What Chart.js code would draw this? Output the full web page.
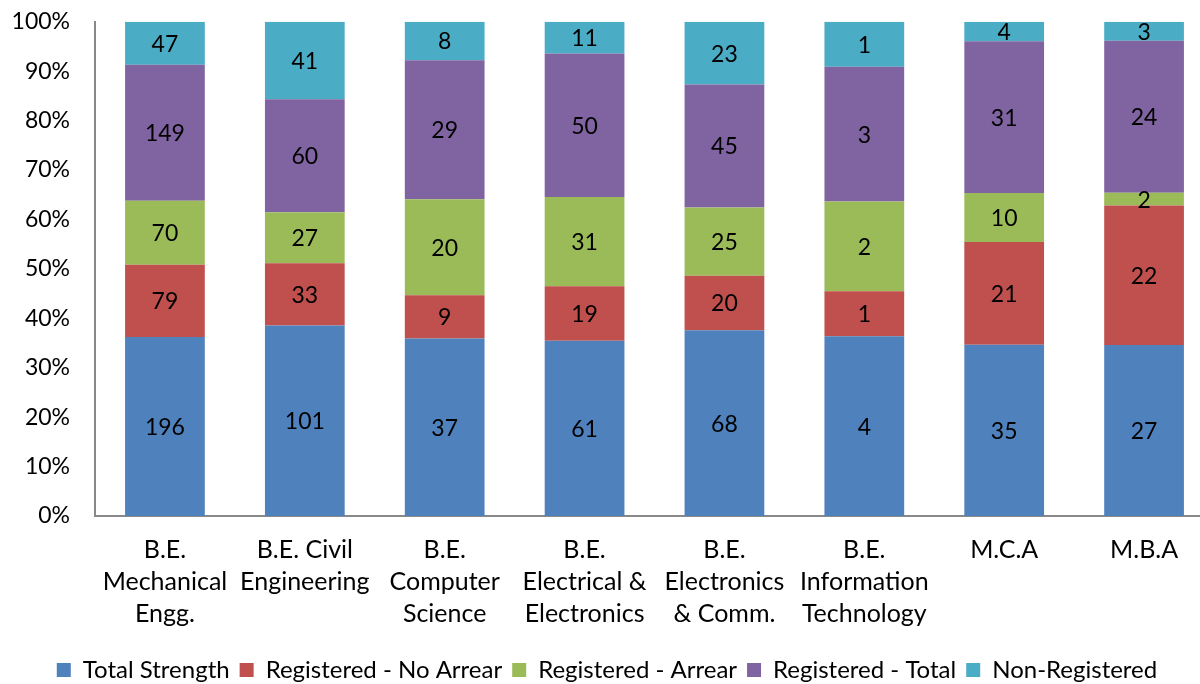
<!DOCTYPE html>
<html>
<head>
<meta charset="utf-8">
<script src="https://cdn.jsdelivr.net/npm/chart.js@4/dist/chart.umd.min.js"></script>
<style>
  html, body { margin: 0; padding: 0; background: #fff; overflow: hidden; }
  #wrap { width: 1200px; height: 684px; overflow: hidden; }
  #box { width: 1214px; height: 709px; margin-top: -17px; }
</style>
</head>
<body>
<div id="wrap"><div id="box"><canvas id="myChart"></canvas></div></div>
<script>
const categories = [
    ['B.E.', 'Mechanical', 'Engg.'],
    ['B.E. Civil', 'Engineering'],
    ['B.E.', 'Computer', 'Science'],
    ['B.E.', 'Electrical &', 'Electronics'],
    ['B.E.', 'Electronics', '& Comm.'],
    ['B.E.', 'Information', 'Technology'],
    'M.C.A',
    'M.B.A'
];
const totalStrength = [196, 101, 37, 61, 68, 4, 35, 27];
const regNoArrear = [79, 33, 9, 19, 20, 1, 21, 22];
const regArrear = [70, 27, 20, 31, 25, 2, 10, 2];
const regTotal = [149, 60, 29, 50, 45, 3, 31, 24];
const nonRegistered = [47, 41, 8, 11, 23, 1, 4, 3];

const seriesNames = ['Total Strength', 'Registered - No Arrear', 'Registered - Arrear', 'Registered - Total', 'Non-Registered'];
const seriesColors = ['#4F81BD', '#C0504D', '#9BBB59', '#8064A2', '#4BACC6'];
const series = [totalStrength, regNoArrear, regArrear, regTotal, nonRegistered];

// each column is shown as a share of its own sum
const sums = categories.map((c, i) => series.reduce((s, arr) => s + arr[i], 0));

const fontFamily = 'Lato, "Open Sans", sans-serif';

const valueLabels = {
    id: 'valueLabels',
    afterDatasetsDraw(chart) {
        const ctx = chart.ctx;
        ctx.save();
        ctx.font = '23px ' + fontFamily;
        ctx.fillStyle = '#000';
        ctx.textAlign = 'center';
        ctx.textBaseline = 'middle';
        chart.data.datasets.forEach((ds, d) => {
            const meta = chart.getDatasetMeta(d);
            meta.data.forEach((bar, i) => {
                const mid = (bar.y + bar.base) / 2;
                ctx.fillText(String(ds.raw[i]), bar.x, mid + 1);
            });
        });
        ctx.restore();
    }
};

const ctx = document.getElementById('myChart').getContext('2d');

const myChart = new Chart(ctx, {
    type: 'bar',
    data: {
        labels: categories,
        datasets: series.map((arr, k) => ({
            label: seriesNames[k],
            raw: arr,
            data: arr.map((v, i) => v / sums[i] * 100),
            backgroundColor: seriesColors[k],
            borderWidth: 0,
            barPercentage: 0.57,
            categoryPercentage: 1
        }))
    },
    options: {
        responsive: true,
        maintainAspectRatio: false,
        animation: false,
        layout: { padding: { top: 8, left: 0, right: 0, bottom: 0 } },
        plugins: {
            tooltip: { enabled: false },
            legend: {
                position: 'bottom',
                labels: {
                    font: { family: fontFamily, size: 24 },
                    color: '#000',
                    boxWidth: 14,
                    boxHeight: 14,
                    padding: 10
                }
            }
        },
        scales: {
            x: {
                stacked: true,
                grid: { display: false, drawTicks: false },
                border: { display: true, color: '#898989', width: 2 },
                ticks: {
                    font: { family: fontFamily, size: 25, lineHeight: 1.28 },
                    color: '#000',
                    padding: 18,
                    maxRotation: 0,
                    autoSkip: false
                }
            },
            y: {
                stacked: true,
                min: 0,
                max: 100,
                grid: { display: false, drawTicks: false },
                border: { display: true, color: '#898989', width: 2 },
                afterFit(scale) { scale.width = 95; },
                ticks: {
                    stepSize: 10,
                    font: { family: fontFamily, size: 23 },
                    color: '#000',
                    padding: 25,
                    callback: v => v + '%'
                }
            }
        }
    },
    plugins: [valueLabels]
});
</script>
</body>
</html>
